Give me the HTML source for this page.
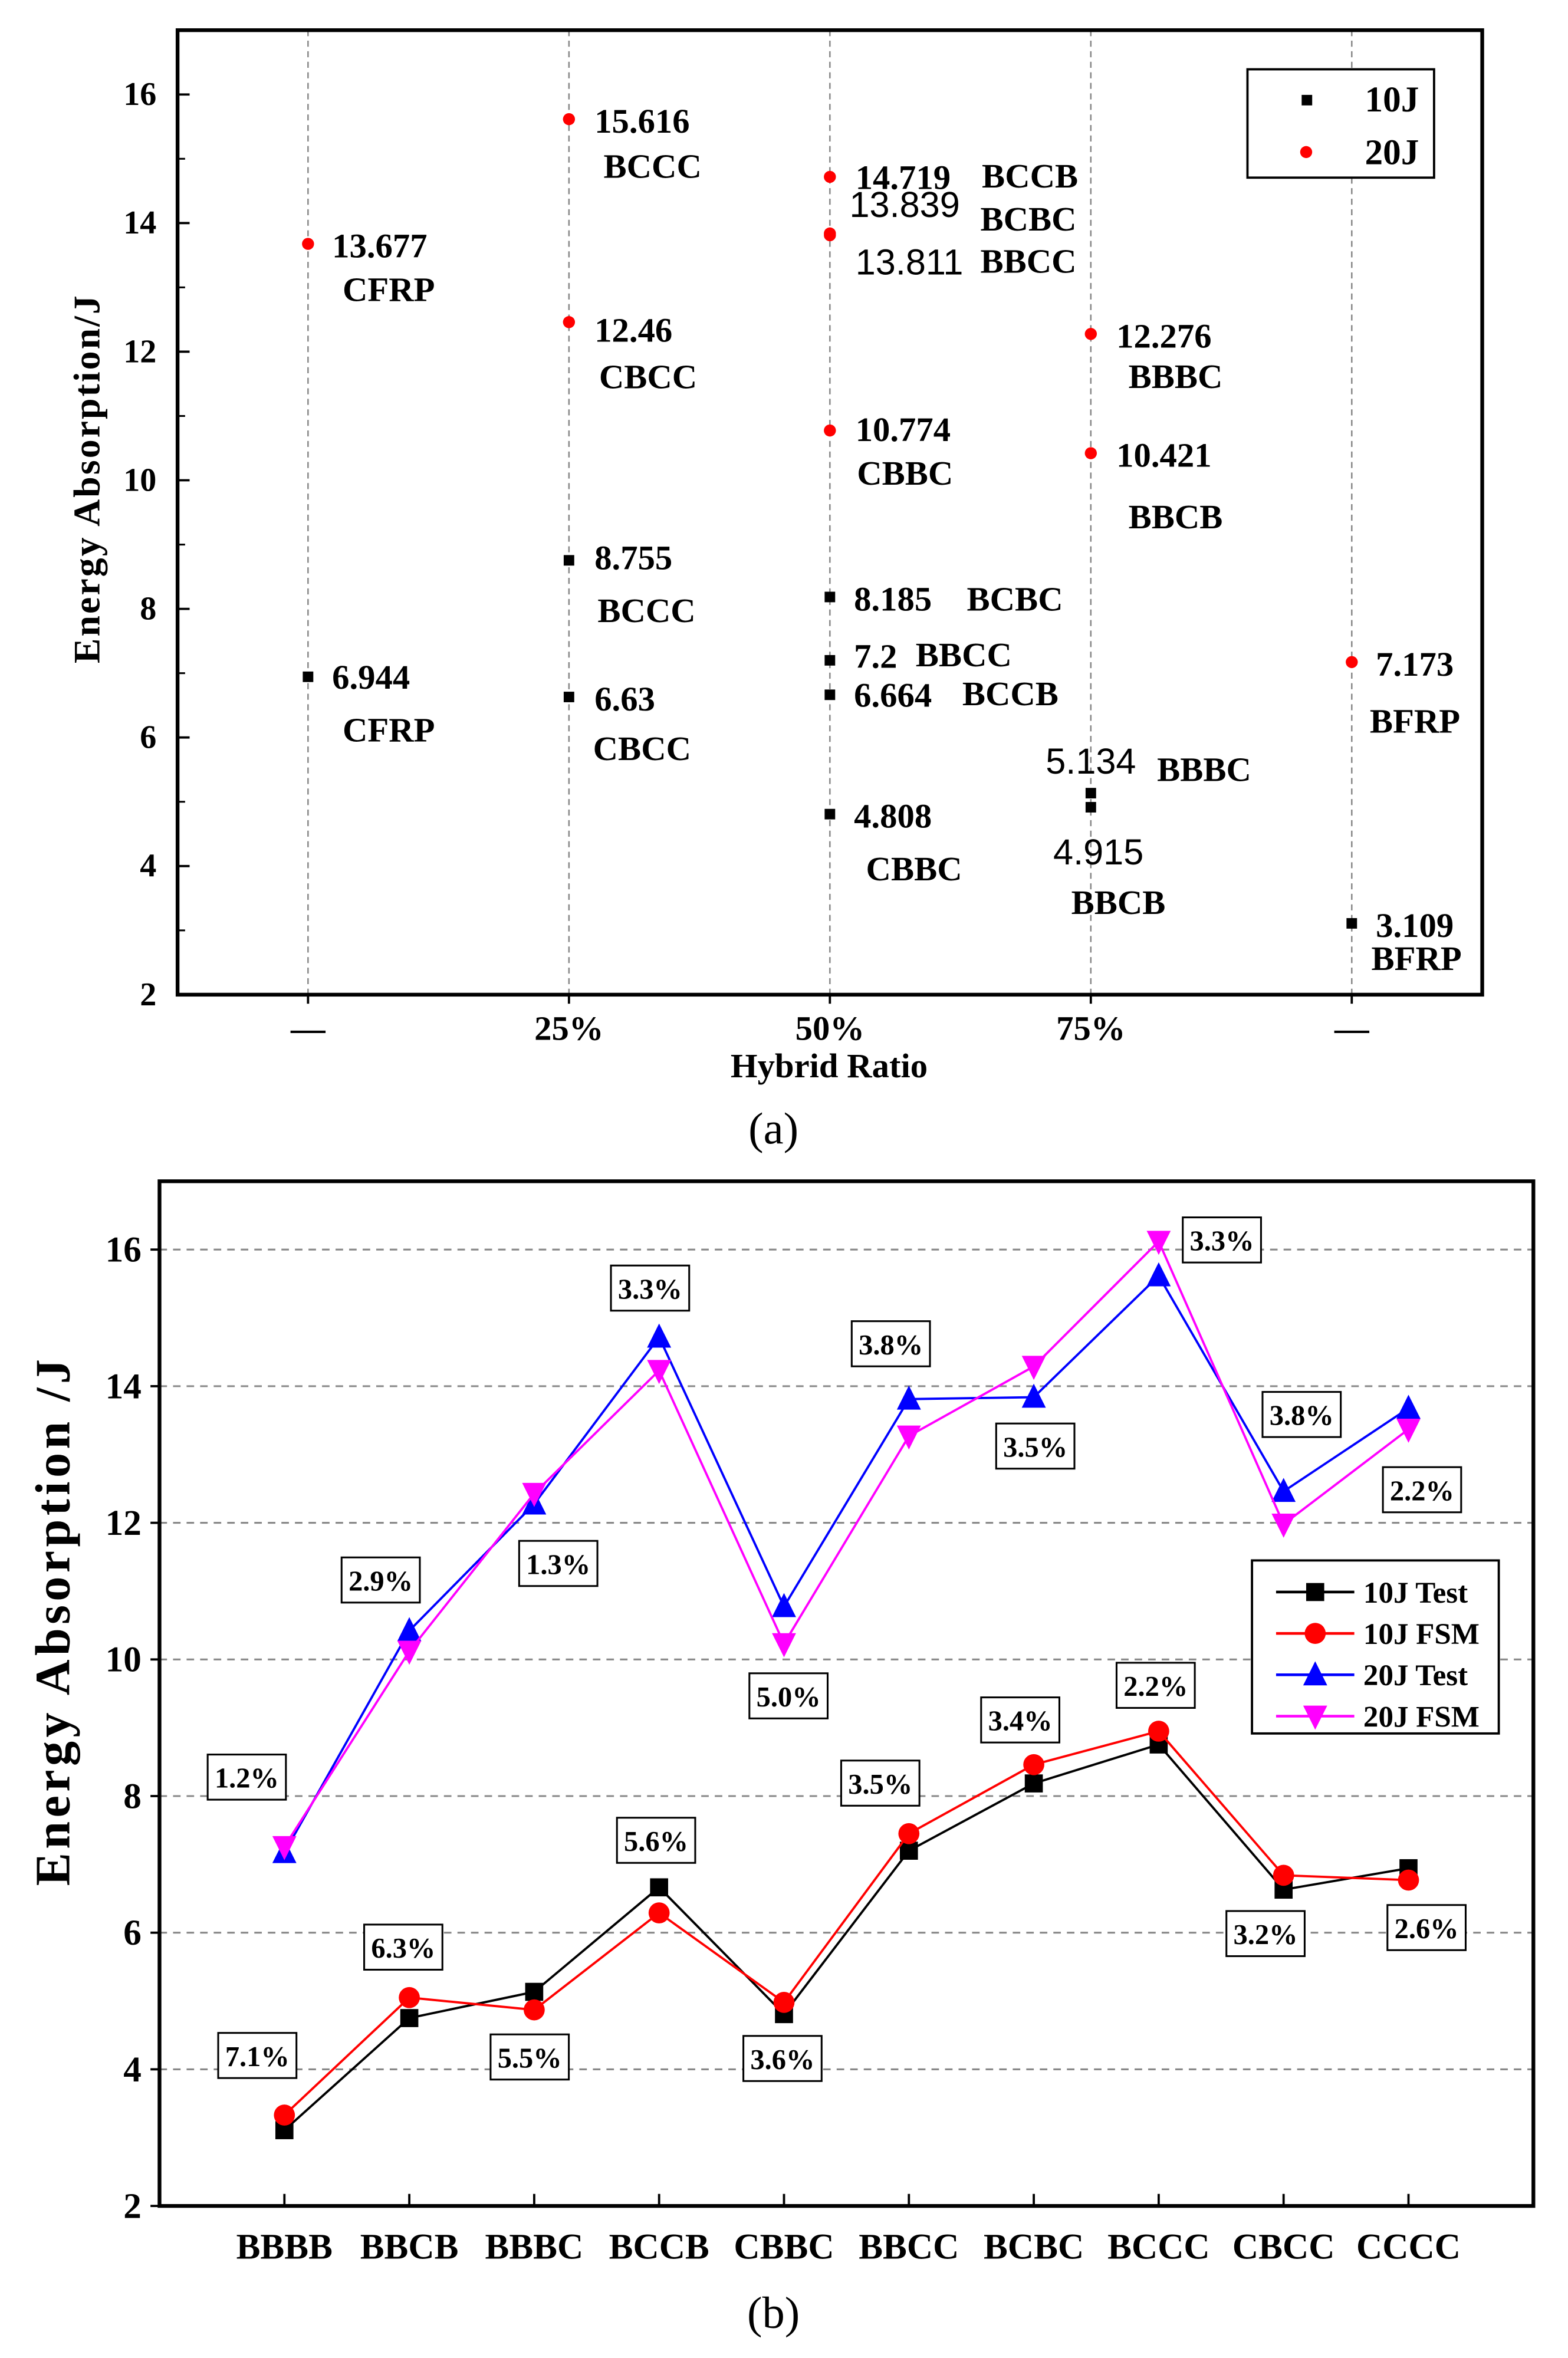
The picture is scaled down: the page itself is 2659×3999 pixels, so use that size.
<!DOCTYPE html>
<html><head><meta charset="utf-8"><style>
html,body{margin:0;padding:0;background:#fff}
svg{display:block}
text{font-family:"Liberation Serif",serif}
</style></head><body>
<svg id="fig" width="2659" height="3999" viewBox="0 0 1042 1567" xmlns="http://www.w3.org/2000/svg">
<g id="chartA"></g>
<g id="chartB"></g>
</svg>
<script>
// ---------- Chart (a) data ----------
const aCategories = ["—","25%","50%","75%","—"];
const a10Cat = [1,2,2,3,3,3,3,4,4,5];
const a10Val = [6.944,8.755,6.63,8.185,7.2,6.664,4.808,5.134,4.915,3.109];
const a20Cat = [1,2,2,3,3,3,3,4,4,5];
const a20Val = [13.677,15.616,12.46,14.719,13.839,13.811,10.774,12.276,10.421,7.173];
const aYTicks = [2,4,6,8,10,12,14,16];
const a10Text = ["6.944","8.755","6.63","8.185","7.2","6.664","4.808","5.134","4.915","3.109"];
const a10Name = ["CFRP","BCCC","CBCC","BCBC","BBCC","BCCB","CBBC","BBBC","BBCB","BFRP"];
const a20Text = ["13.677","15.616","12.46","14.719","13.839","13.811","10.774","12.276","10.421","7.173"];
const a20Name = ["CFRP","BCCC","CBCC","BCCB","BCBC","BBCC","CBBC","BBBC","BBCB","BFRP"];

// ---------- Chart (b) data ----------
const bCategories = ["BBBB","BBCB","BBBC","BCCB","CBBC","BBCC","BCBC","BCCC","CBCC","CCCC"];
const b10Test = [3.109,4.75,5.134,6.664,4.808,7.2,8.185,8.755,6.63,6.944];
const b10FSM = [3.33,5.05,4.87,6.29,4.98,7.45,8.46,8.95,6.84,6.77];
const b20Test = [7.173,10.421,12.276,14.719,10.774,13.811,13.839,15.616,12.46,13.677];
const b20FSM = [7.26,10.12,12.43,14.23,10.23,13.27,14.29,16.12,11.98,13.37];
const bErr20 = ["1.2%","2.9%","1.3%","3.3%","5.0%","3.8%","3.5%","3.3%","3.8%","2.2%"];
const bErr10 = ["7.1%","6.3%","5.5%","5.6%","3.6%","3.5%","3.4%","2.2%","3.2%","2.6%"];
const bYTicks = [2,4,6,8,10,12,14,16];

const NS="http://www.w3.org/2000/svg";
function mk(parent,tag,attrs,txt){const e=document.createElementNS(NS,tag);for(const k in attrs)e.setAttribute(k,attrs[k]);if(txt!==undefined)e.textContent=txt;parent.appendChild(e);return e;}

// ================= Chart A =================
(function(){
const g=document.getElementById('chartA');
const L=118,R=985,T=20,B=661;
const x=c=>L+(c-0.5)*(R-L)/5;
const y=v=>B-(v-2)*(B-T)/15;
aCategories.forEach((c,i)=>{
  const l=mk(g,'line',{x1:x(i+1),x2:x(i+1),y1:T,y2:B,stroke:'#888','stroke-width':1,'stroke-dasharray':'4,3'});
  
  
  const t=mk(g,'text',{x:x(i+1),y:691,'text-anchor':'middle','font-size':23,'font-weight':'bold'},c);
  
  
  mk(g,'line',{x1:x(i+1),x2:x(i+1),y1:B,y2:B+6,stroke:'#000','stroke-width':1.5});
});
aYTicks.forEach(v=>{
  mk(g,'line',{x1:L,x2:L+8,y1:y(v),y2:y(v),stroke:'#000','stroke-width':1.5});
  if(v<16) mk(g,'line',{x1:L,x2:L+5,y1:y(v+1),y2:y(v+1),stroke:'#000','stroke-width':1.2});
  const t=mk(g,'text',{x:L-14,y:y(v)+7,'text-anchor':'end','font-size':22,'font-weight':'bold'},String(v));
  
  
});
const fr=mk(g,'rect',{x:L,y:T,width:R-L,height:B-T,fill:'none',stroke:'#000','stroke-width':2.5});


const xt=mk(g,'text',{x:551,y:716,'text-anchor':'middle','font-size':23,'font-weight':'bold'},'Hybrid Ratio');


const yt=mk(g,'text',{x:0,y:0,transform:'translate(66,318) rotate(-90)','text-anchor':'middle','font-size':25,'font-weight':'bold','letter-spacing':'1.2'},'Energy Absorption/J');


const cap=mk(g,'text',{x:514,y:760,'text-anchor':'middle','font-size':30},'(a)');


const off10=[[16,0,23,35],[17,-2,19,33],[17,1,16,34],[16,1,91,1],[16,-3,57,-4],[16,0,88,-1],[16,1,24,36],[-30,-21,44,-16],[-25,30,-13,63],[16,1,13,23]];
const bold10=[1,1,1,1,1,1,1,0,0,1];
const off20=[[16,1,23,30],[17,1,23,31],[17,5,20,36],[17,0,101,-1],[13,-19,100,-10],[17,18,100,17],[17,-1,18,28],[17,1,25,28],[17,1,25,42],[16,1,12,39]];
const bold20=[1,1,1,1,0,0,1,1,1,1];
function annot(cats,vals,txt,names,off,bold,color,isSq,nm){
  vals.forEach((v,i)=>{
    const px=x(cats[i]),py=y(v);
    let m;
    if(isSq) m=mk(g,'rect',{x:px-3.5,y:py-3.5,width:7,height:7,fill:color});
    else m=mk(g,'circle',{cx:px,cy:py,r:4,fill:color});
    
    
    const o=off[i];
    const tv=mk(g,'text',{x:px+o[0],y:py+o[1]+8,'font-size':bold[i]?23:24,'font-weight':bold[i]?'bold':'normal'},txt[i]);
    if(!bold[i]) tv.setAttribute('style','font-family:"Liberation Sans",sans-serif');
    
    
    const tn=mk(g,'text',{x:px+o[2],y:py+o[3]+8,'font-size':23,'font-weight':'bold'},names[i]);
    
    
  });
}
annot(a10Cat,a10Val,a10Text,a10Name,off10,bold10,'#000',true,'10j');
annot(a20Cat,a20Val,a20Text,a20Name,off20,bold20,'#f00',false,'20j');
const lg=mk(g,'g',{});


mk(lg,'rect',{x:829,y:46,width:124,height:72,fill:'#fff',stroke:'#000','stroke-width':1.5});
mk(lg,'rect',{x:865,y:63,width:7,height:7,fill:'#000'});
mk(lg,'circle',{cx:868,cy:101,r:4,fill:'#f00'});
const l1=mk(lg,'text',{x:907,y:74,'font-size':24,'font-weight':'bold'},'10J');


const l2=mk(lg,'text',{x:907,y:109,'font-size':24,'font-weight':'bold'},'20J');


})();

// ================= Chart B =================
(function(){
const g=document.getElementById('chartB');
const L=106,R=1019,T=785,B=1466;
const x=i=>L+(i+1)*(R-L)/11;
const y=v=>B-(v-2)*(B-T)/15;
bYTicks.forEach(v=>{
  if(v>2){const gl=mk(g,'line',{x1:L,x2:R,y1:y(v),y2:y(v),stroke:'#888','stroke-width':1.2,'stroke-dasharray':'5,4'});
  
  }
  mk(g,'line',{x1:L-6,x2:L,y1:y(v),y2:y(v),stroke:'#000','stroke-width':1.5});
  const t=mk(g,'text',{x:L-12,y:y(v)+8,'text-anchor':'end','font-size':24,'font-weight':'bold'},String(v));
  
  
});
bCategories.forEach((c,i)=>{
  mk(g,'line',{x1:x(i),x2:x(i),y1:B,y2:B-8,stroke:'#000','stroke-width':1.5});
  const t=mk(g,'text',{x:x(i),y:1501,'text-anchor':'middle','font-size':24,'font-weight':'bold'},c);
  
  
});
const fr=mk(g,'rect',{x:L,y:T,width:R-L,height:B-T,fill:'none',stroke:'#000','stroke-width':2.5});


const yt=mk(g,'text',{x:0,y:0,transform:'translate(46,1077) rotate(-90)','text-anchor':'middle','font-size':33,'font-weight':'bold','letter-spacing':'2.5'},'Energy Absorption /J');


const cap=mk(g,'text',{x:514,y:1547,'text-anchor':'middle','font-size':30},'(b)');


function series(vals,color,shape,nm){
  const pts=vals.map((v,i)=>x(i)+','+y(v)).join(' ');
  const pl=mk(g,'polyline',{points:pts,fill:'none',stroke:color,'stroke-width':1.5});
  
  
  vals.forEach((v,i)=>{
    const m=marker(x(i),y(v),color,shape);
    
    
  });
}
function marker(px,py,color,shape){
  if(shape==='sq') return mk(g,'rect',{x:px-6,y:py-6,width:12,height:12,fill:color});
  if(shape==='ci') return mk(g,'circle',{cx:px,cy:py,r:7,fill:color});
  if(shape==='up') return mk(g,'polygon',{points:`${px},${py-9} ${px-8},${py+7} ${px+8},${py+7}`,fill:color});
  return mk(g,'polygon',{points:`${px},${py+9} ${px-8},${py-7} ${px+8},${py-7}`,fill:color});
}
series(b10Test,'#000','sq','10j-test');
series(b10FSM,'#f00','ci','10j-fsm');
series(b20Test,'#00f','up','20j-test');
series(b20FSM,'#f0f','dn','20j-fsm');
// error-label box centres (annotation placement, display units)
const e20pos=[[164,1181],[253,1050],[371,1039],[432,856],[524,1127],[592,893],[688,961],[812,824],[865,940],[945,990]];
const e10pos=[[171,1366],[268,1294],[352,1367],[436,1223],[520,1368],[585,1185],[678,1143],[768,1120],[841,1285],[948,1281]];
function ebox(p,txt){
  const cx=p[0],cy=p[1];
  const gg=mk(g,'g',{});
  
  
  mk(gg,'rect',{x:cx-26,y:cy-15,width:52,height:30,fill:'#fff',stroke:'#000','stroke-width':1.2});
  mk(gg,'text',{x:cx,y:cy+7,'text-anchor':'middle','font-size':19,'font-weight':'bold'},txt);
}
bErr20.forEach((t,i)=>ebox(e20pos[i],t));
bErr10.forEach((t,i)=>ebox(e10pos[i],t));
const lg=mk(g,'g',{});


mk(lg,'rect',{x:832,y:1037,width:164,height:115,fill:'#fff',stroke:'#000','stroke-width':1.5});
const items=[['10J Test','#000','sq'],['10J FSM','#f00','ci'],['20J Test','#00f','up'],['20J FSM','#f0f','dn']];
items.forEach((it,k)=>{
  const ly=1058+k*27.5;
  mk(lg,'line',{x1:848,x2:900,y1:ly,y2:ly,stroke:it[1],'stroke-width':1.8});
  const m=marker(874,ly,it[1],it[2]);
  m.parentNode.removeChild(m); lg.appendChild(m);
  const t=mk(lg,'text',{x:906,y:ly+7,'font-size':20,'font-weight':'bold'},it[0]);
  
  
});
})();
</script>
</body></html>
